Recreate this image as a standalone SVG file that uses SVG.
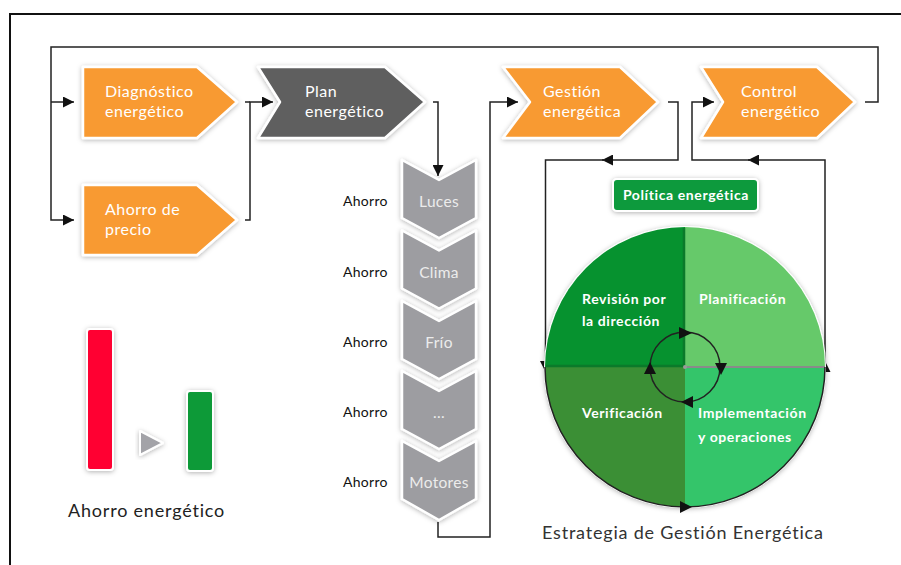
<svg xmlns="http://www.w3.org/2000/svg" width="901" height="565" viewBox="0 0 901 565">
<style>
.t{font-family:Lato,"Open Sans","DejaVu Sans",sans-serif}
.box{stroke:#fff;stroke-width:2.5;stroke-linejoin:round;filter:url(#sh)}
.or{fill:#f89a31}
.bt{fill:#fff;font-size:16px;letter-spacing:0.5px}
.chev{fill:#9d9da1;stroke:#fff;stroke-width:2.5;stroke-linejoin:round;filter:url(#sh)}
.ct{fill:#ececec;font-size:15.5px;text-anchor:middle;letter-spacing:0.3px}
.ah{fill:#111;font-size:14px;letter-spacing:0.3px}
.ln{fill:none;stroke:#222;stroke-width:1.5}
.gt{fill:#fff;font-size:14px;font-weight:bold;letter-spacing:0.6px}
.ar{fill:#111}
</style>
<defs>
<filter id="sh" x="-20%" y="-20%" width="140%" height="140%">
<feDropShadow dx="0" dy="1" stdDeviation="2.5" flood-color="#000" flood-opacity="0.3"/>
</filter>
<marker id="a" viewBox="0 0 10 10" refX="10" refY="5" markerUnits="userSpaceOnUse" markerWidth="11" markerHeight="11" orient="auto">
<path d="M0,0 L10,5 L0,10 Z" fill="#111"/>
</marker>
</defs>
<rect width="901" height="565" fill="#fff"/>
<path d="M10,565 V14 H901" fill="none" stroke="#111" stroke-width="2"/>

<g id="connectors">
<path class="ln" d="M865,102 H878 V47 H51 V220 H74" marker-end="url(#a)"/>
<path class="ln" d="M51,102 H74" marker-end="url(#a)"/>
<path class="ln" d="M245,220 H250 V102 H273" marker-end="url(#a)"/>
<path class="ln" d="M245,102 H250"/>
<path class="ln" d="M433,102 H438 V176" marker-end="url(#a)"/>
<path class="ln" d="M438,522 V537 H490 V102 H518" marker-end="url(#a)"/>
<path class="ln" d="M668,102 H678 V160 H602" marker-end="url(#a)"/>
<path class="ln" d="M605,160 H545.5 V372" marker-end="url(#a)"/>
<path class="ln" d="M825,367 V160 H748" marker-end="url(#a)"/>
<path class="ln" d="M751,160 H692 V102 H714" marker-end="url(#a)"/>
<path class="ln" d="M825,372 V361" marker-end="url(#a)"/>
</g>

<g id="diagnostico">
<path class="box or" d="M83,67 L197,67 L237,102 L197,138 L83,138 Z"/>
<text class="t bt" x="105" y="97">Diagnóstico</text>
<text class="t bt" x="105" y="117">energético</text>
</g>
<g id="ahorro-precio">
<path class="box or" d="M83,185 L197,185 L237,220 L197,255 L83,255 Z"/>
<text class="t bt" x="105" y="215">Ahorro de</text>
<text class="t bt" x="105" y="235">precio</text>
</g>
<g id="plan">
<path class="box" fill="#5e5e5f" d="M258,67 L385,67 L425,102 L385,138 L258,138 L280,102 Z"/>
<text class="t bt" x="305" y="97">Plan</text>
<text class="t bt" x="305" y="117">energético</text>
</g>
<g id="gestion">
<path class="box or" d="M503,67 L620,67 L658,102 L620,138 L503,138 L530,102 Z"/>
<text class="t bt" x="543" y="97">Gestión</text>
<text class="t bt" x="543" y="117">energética</text>
</g>
<g id="control">
<path class="box or" d="M701,67 L817,67 L855,102 L817,138 L701,138 L723,102 Z"/>
<text class="t bt" x="741" y="97">Control</text>
<text class="t bt" x="741" y="117">energético</text>
</g>

<g id="luces">
<path class="chev" d="M402,160 L439,180 L476,160 L476,218 L439,238 L402,218 Z"/>
<text class="t ct" x="439" y="207">Luces</text>
<text class="t ah" x="343" y="206">Ahorro</text>
</g>
<g id="clima">
<path class="chev" d="M402,230.5 L439,250.5 L476,230.5 L476,288.5 L439,308.5 L402,288.5 Z"/>
<text class="t ct" x="439" y="277.5">Clima</text>
<text class="t ah" x="343" y="276.5">Ahorro</text>
</g>
<g id="frio">
<path class="chev" d="M402,301 L439,321 L476,301 L476,359 L439,379 L402,359 Z"/>
<text class="t ct" x="439" y="348">Frío</text>
<text class="t ah" x="343" y="347">Ahorro</text>
</g>
<g id="otros">
<path class="chev" d="M402,371 L439,391 L476,371 L476,429 L439,449 L402,429 Z"/>
<text class="t ct" x="439" y="418">...</text>
<text class="t ah" x="343" y="417">Ahorro</text>
</g>
<g id="motores">
<path class="chev" d="M402,441 L439,461 L476,441 L476,499 L439,520 L402,499 Z"/>
<text class="t ct" x="439" y="488">Motores</text>
<text class="t ah" x="343" y="487">Ahorro</text>
</g>

<g id="ciclo">
<circle cx="685" cy="367" r="141" fill="#fff" filter="url(#sh)"/>
<path d="M685,367 L545,367 A140,140 0 0 1 685,227 Z" fill="#06922f"/>
<path d="M685,367 L685,227 A140,140 0 0 1 825,367 Z" fill="#66c96a"/>
<path d="M685,367 L825,367 A140,140 0 0 1 685,507 Z" fill="#34c56a"/>
<path d="M685,367 L685,507 A140,140 0 0 1 545,367 Z" fill="#3b8f35"/>
<path d="M684,228 V366 H546" fill="none" stroke="#0b7a2a" stroke-width="2.5"/>
<path d="M686,367 H825" stroke="#8a8a8a" stroke-width="2"/>
<circle cx="685" cy="367" r="2" fill="#9a9a9a"/>
<path class="ln" d="M545,367 A140,140 0 0 0 825,367"/>
<path class="ar" d="M692,507 L680,501 L680,513 Z"/>
<circle class="ln" cx="685" cy="367" r="35"/>
<path class="ar" d="M692,333 L679,327 L679,339 Z"/>
<path class="ar" d="M721,375 L715,363 L727,363 Z"/>
<path class="ar" d="M681,402 L693,396 L693,408 Z"/>
<path class="ar" d="M650,362 L644,374 L656,374 Z"/>
<text class="t gt" x="582" y="304">Revisión por</text>
<text class="t gt" x="582" y="326">la dirección</text>
<text class="t gt" x="699" y="304">Planificación</text>
<text class="t gt" x="582" y="418">Verificación</text>
<text class="t gt" x="698" y="418">Implementación</text>
<text class="t gt" x="698" y="442">y operaciones</text>
</g>

<g id="politica">
<rect x="613" y="179" width="145" height="32" rx="4" fill="#0a9a3c" stroke="#fff" stroke-width="2" filter="url(#sh)"/>
<text class="t gt" x="686" y="200" text-anchor="middle">Política energética</text>
</g>

<text class="t" x="542" y="539" font-size="18" letter-spacing="0.8" fill="#333">Estrategia de Gestión Energética</text>

<g id="ahorro-energetico">
<rect x="87" y="329" width="26" height="141" rx="3" fill="#ff0033" stroke="#fff" stroke-width="2" filter="url(#sh)"/>
<rect x="187" y="391" width="26" height="80" rx="3" fill="#079a38" stroke="#fff" stroke-width="2" filter="url(#sh)"/>
<path d="M140,431 L163,443 L140,455 Z" fill="#a3a3a8" stroke="#fff" stroke-width="2" stroke-linejoin="round" filter="url(#sh)"/>
<text class="t" x="68" y="517" font-size="18" letter-spacing="0.8" fill="#222">Ahorro energético</text>
</g>
</svg>
